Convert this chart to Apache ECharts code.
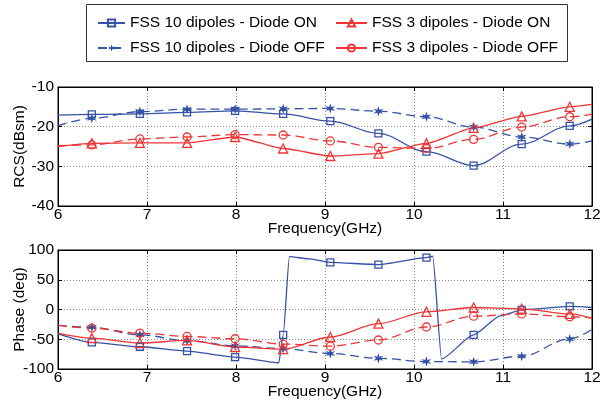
<!DOCTYPE html>
<html>
<head>
<meta charset="utf-8">
<script src="https://cdn.jsdelivr.net/npm/echarts@6/dist/echarts.min.js"></script>
<style>html,body{margin:0;padding:0;background:#fff}#c{width:605px;height:405px}</style>
</head>
<body>
<div id="c"></div>
<script>
// ---- data ----
const seriesNames = ['FSS 10 dipoles - Diode ON', 'FSS 10 dipoles - Diode OFF', 'FSS 3 dipoles - Diode ON', 'FSS 3 dipoles - Diode OFF'];
const markerFreqs = [6.38, 6.92, 7.45, 7.99, 8.53, 9.06, 9.60, 10.14, 10.67, 11.21, 11.75];
const xTicks = [6, 7, 8, 9, 10, 11, 12];
const rcsTicks = [-40, -30, -20, -10];
const phaseTicks = [-100, -50, 0, 50, 100];

// RCS (dBsm) - top panel
const rcsFreqs = [6, 6.38, 6.92, 7.45, 7.99, 8.53, 9.06, 9.60, 10.14, 10.67, 11.21, 11.75, 12];
const rcs10On  = [-17.1, -16.9, -16.75, -16.4, -16.0, -16.8, -18.6, -21.7, -26.3, -29.8, -24.4, -19.8, -18.1];
const rcs10Off = [-19.8, -17.9, -16.2, -15.6, -15.6, -15.5, -15.4, -16.1, -17.5, -20.1, -22.6, -24.4, -23.6];
const rcs3On   = [-25.0, -24.2, -24.1, -24.1, -22.6, -25.5, -27.4, -26.8, -24.2, -20.3, -17.4, -15.0, -14.4];
const rcs3Off  = [-24.8, -24.6, -23.1, -22.6, -22.0, -22.1, -23.6, -25.2, -25.5, -23.2, -20.1, -17.5, -16.9];

// Phase (deg) - bottom panel
const phaseFreqs = [6, 6.38, 6.92, 7.45, 7.99, 8.53, 9.06, 9.60, 10.14, 10.67, 11.21, 11.75, 12];
const phase10OnFreqs = [6, 6.38, 6.92, 7.45, 7.99, 8.48, 8.53, 8.60, 8.83, 9.06, 9.60, 10.14, 10.21, 10.31, 10.67, 10.97, 11.21, 11.75, 12];
const phase10On  = [-40.8, -55.3, -62.6, -69.8, -79.9, -89.5, -42.7, 89, 85, 79.3, 75.4, 87.1, 89.5, -83, -42.7, -10.6, -0.5, 5.1, 3.4];
const phase10Off = [-26.8, -30.0, -42.5, -52.5, -60.9, -65.9, -74.0, -82.0, -87.5, -88.0, -78.5, -49.4, -33.5];
const phase3On   = [-39.7, -48.1, -56.4, -52.0, -63.0, -66.5, -46.2, -23.8, -3.9, 3.4, 1.2, -7.5, -15.0];
const phase3Off  = [-26.8, -31.3, -39.7, -45.3, -49.2, -58.1, -61.7, -51.3, -29.4, -11.2, -7.5, -12.2, -14.3];

// ---- styles ----
const BLUE = '#3452a6';
const RED = '#ee3535';
const FONT = 'Liberation Sans';
const FS = 15.5;
const STAR = 'path://M0,-10 L2.2,-3 L9,-5 L4.2,0 L9,5 L2.2,3 L0,10 L-2.2,3 L-9,5 L-4.2,0 L-9,-5 L-2.2,-3 Z';

const styles = [
  {color: BLUE, symbol: 'rect', size: 7, dash: 'solid', open: true},
  {color: BLUE, symbol: STAR, size: 10, dash: [9, 5], open: false},
  {color: RED, symbol: 'triangle', size: 9, dash: 'solid', open: true},
  {color: RED, symbol: 'circle', size: 8, dash: [9, 5], open: true}
];

function isMarker(f) { return markerFreqs.some(m => Math.abs(m - f) < 1e-6); }

function makeSeries(idx, freqs, vals, xi, yi, smooth) {
  const st = styles[idx];
  return {
    type: 'line',
    name: seriesNames[idx],
    xAxisIndex: xi, yAxisIndex: yi,
    smooth: smooth, smoothMonotone: 'x',
    color: st.color,
    showSymbol: true, showAllSymbol: true,
    symbol: st.symbol, symbolSize: st.size,
    lineStyle: {color: st.color, width: 1.3, type: st.dash},
    itemStyle: st.open ? {color: 'rgba(255,255,255,0)', borderColor: st.color, borderWidth: 1.3}
                       : {color: st.color, borderColor: st.color, borderWidth: 0},
    emphasis: {disabled: true},
    z: 3,
    data: freqs.map((f, i) => isMarker(f) ? {value: [f, vals[i]]} : {value: [f, vals[i]], symbol: 'none'})
  };
}

const chart = echarts.init(document.getElementById('c'), null, {renderer: 'canvas'});

const gridLine = {show: true, lineStyle: {color: '#8a8a8a', type: [1, 2], width: 1}};
const labelStyle = {color: '#000', fontSize: FS, fontFamily: FONT};

function xAx(gi, pos, main) {
  return {
    type: 'value', gridIndex: gi, position: pos, min: 6, max: 12, interval: 1,
    name: main ? 'Frequency(GHz)' : '', nameLocation: 'middle', nameGap: 15, nameMoveOverlap: false,
    nameTextStyle: {color: '#000', fontSize: FS, fontFamily: FONT},
    axisLine: {show: true, onZero: false, lineStyle: {color: '#000', width: 1}},
    axisTick: {show: true, inside: true, length: 4, lineStyle: {color: '#000'}},
    axisLabel: {show: main, margin: 1, ...labelStyle, formatter: v => xTicks.includes(v) ? String(v) : ''},
    splitLine: main ? gridLine : {show: false}
  };
}
function yAx(gi, pos, main, mn, mx, iv, name, ticks) {
  return {
    type: 'value', gridIndex: gi, position: pos, min: mn, max: mx, interval: iv,
    name: main ? name : '', nameLocation: 'middle', nameGap: 30, nameMoveOverlap: false,
    nameTextStyle: {color: '#000', fontSize: FS, fontFamily: FONT},
    axisLine: {show: true, onZero: false, lineStyle: {color: '#000', width: 1}},
    axisTick: {show: true, inside: true, length: 4, lineStyle: {color: '#000'}},
    axisLabel: {show: main, margin: 4, ...labelStyle, formatter: v => ticks.includes(v) ? String(v) : ''},
    splitLine: main ? gridLine : {show: false}
  };
}

function legendAt(left, top, idx, iw) {
  const l = {
    left: left, top: top, padding: 0, itemWidth: iw, itemHeight: 9, itemGap: 0,
    selectedMode: false, data: [seriesNames[idx]],
    textStyle: {color: '#000', fontSize: FS, fontFamily: FONT}
  };
  if (idx === 3) l.lineStyle = {type: 'solid'};
  return l;
}

chart.setOption({
  animation: false,
  backgroundColor: '#fff',
  grid: [
    {left: 58, top: 87, width: 534, height: 119, show: true, borderColor: '#000', borderWidth: 1, outerBoundsMode: 'none', containLabel: false},
    {left: 58, top: 250, width: 534, height: 119, show: true, borderColor: '#000', borderWidth: 1, outerBoundsMode: 'none', containLabel: false}
  ],
  xAxis: [xAx(0, 'bottom', true), xAx(0, 'top', false), xAx(1, 'bottom', true), xAx(1, 'top', false)],
  yAxis: [
    yAx(0, 'left', true, -40, -10, 10, 'RCS(dBsm)', rcsTicks),
    yAx(0, 'right', false, -40, -10, 10, '', rcsTicks),
    yAx(1, 'left', true, -100, 100, 50, 'Phase (deg)', phaseTicks),
    yAx(1, 'right', false, -100, 100, 50, '', phaseTicks)
  ],
  legend: [
    legendAt(97, 15, 0, 27),
    legendAt(97, 40, 1, 27),
    legendAt(335, 15, 2, 31),
    legendAt(335, 40, 3, 31)
  ],
  graphic: [{
    type: 'rect', shape: {x: 86.5, y: 4.5, width: 481, height: 57},
    style: {fill: 'none', stroke: '#333', lineWidth: 1}, z: -1, silent: true
  }],
  series: [
    makeSeries(0, rcsFreqs, rcs10On, 0, 0, 0.35),
    makeSeries(1, rcsFreqs, rcs10Off, 0, 0, 0.35),
    makeSeries(2, rcsFreqs, rcs3On, 0, 0, 0.2),
    makeSeries(3, rcsFreqs, rcs3Off, 0, 0, 0.35),
    makeSeries(0, phase10OnFreqs, phase10On, 2, 2, 0.2),
    makeSeries(1, phaseFreqs, phase10Off, 2, 2, 0.35),
    makeSeries(2, phaseFreqs, phase3On, 2, 2, 0.3),
    makeSeries(3, phaseFreqs, phase3Off, 2, 2, 0.35)
  ]
});
</script>
</body>
</html>
